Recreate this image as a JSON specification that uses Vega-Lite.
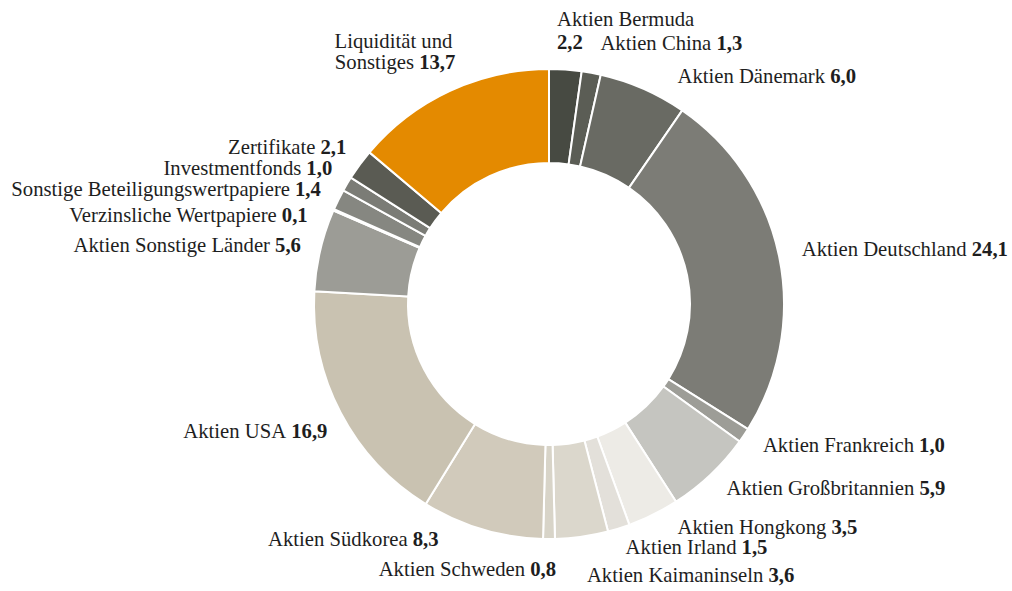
{
  "$schema": "https://vega.github.io/schema/vega-lite/v6.json",
  "width": 926,
  "height": 574,
  "autosize": {"type": "none"},
  "padding": {"left": 86, "top": 17, "right": 0, "bottom": 0},
  "background": "#ffffff",
  "config": {"view": {"stroke": null}, "text": {"font": "Liberation Serif", "fontSize": 20.7, "fill": "#1e1e1e", "baseline": "middle"}},
  "data": {"values": [
    {"name": "Aktien Bermuda", "value": 2.2},
    {"name": "Aktien China", "value": 1.3},
    {"name": "Aktien Dänemark", "value": 6.0},
    {"name": "Aktien Deutschland", "value": 24.1},
    {"name": "Aktien Frankreich", "value": 1.0},
    {"name": "Aktien Großbritannien", "value": 5.9},
    {"name": "Aktien Hongkong", "value": 3.5},
    {"name": "Aktien Irland", "value": 1.5},
    {"name": "Aktien Kaimaninseln", "value": 3.6},
    {"name": "Aktien Schweden", "value": 0.8},
    {"name": "Aktien Südkorea", "value": 8.3},
    {"name": "Aktien USA", "value": 16.9},
    {"name": "Aktien Sonstige Länder", "value": 5.6},
    {"name": "Verzinsliche Wertpapiere", "value": 0.1},
    {"name": "Sonstige Beteiligungswertpapiere", "value": 1.4},
    {"name": "Investmentfonds", "value": 1.0},
    {"name": "Zertifikate", "value": 2.1},
    {"name": "Liquidität und Sonstiges", "value": 13.7}
  ]},
  "transform": [
    {"window": [{"op": "row_number", "as": "ord"}]},
    {"calculate": "replace(format(datum.value, '.1f'), '.', ',')", "as": "vtxt"},
    {"calculate": "20.7*(0.5*(length(datum.vtxt)-1) + 0.25)", "as": "vW"},
    {"calculate": "20.7*(0.5*length(datum.name) - 0.25*(length(datum.name)-length(replace(datum.name,regexp(' ','g'),''))) - 0.222*(length(datum.name)-length(replace(datum.name,regexp('[iltj]','g'),''))) - 0.167*(length(datum.name)-length(replace(datum.name,regexp('[frI]','g'),''))) - 0.111*(length(datum.name)-length(replace(datum.name,regexp('[sJ]','g'),''))) - 0.056*(length(datum.name)-length(replace(datum.name,regexp('[aceäz]','g'),''))) + 0.056*(length(datum.name)-length(replace(datum.name,regexp('[FPS]','g'),''))) + 0.111*(length(datum.name)-length(replace(datum.name,regexp('[ELTZ]','g'),''))) + 0.167*(length(datum.name)-length(replace(datum.name,regexp('[BCR]','g'),''))) + 0.222*(length(datum.name)-length(replace(datum.name,regexp('[ADGHKNOQUVXYw]','g'),''))) + 0.278*(length(datum.name)-length(replace(datum.name,regexp('m','g'),''))) + 0.389*(length(datum.name)-length(replace(datum.name,regexp('M','g'),''))) + 0.444*(length(datum.name)-length(replace(datum.name,regexp('W','g'),''))))", "as": "nameW"},
    {"calculate": "datum.name == 'Aktien Bermuda' ? 'RB' : datum.name == 'Aktien China' ? 'R4' : datum.name == 'Aktien Dänemark' ? 'R1' : datum.name == 'Aktien Hongkong' ? 'R2' : datum.name == 'Aktien Kaimaninseln' ? 'R3' : (datum.name == 'Aktien USA' || datum.name == 'Aktien Schweden') ? 'L1' : datum.name == 'Verzinsliche Wertpapiere' ? 'L2' : datum.name == 'Aktien Südkorea' ? 'L3' : (datum.name == 'Investmentfonds' || datum.name == 'Zertifikate') ? 'L4' : datum.name == 'Liquidität und Sonstiges' ? 'LQ' : datum.ord <= 9 ? 'R0' : 'L0'", "as": "grp"}
  ],
  "encoding": {
    "theta": {"field": "value", "type": "quantitative", "stack": true},
    "order": {"field": "ord", "type": "quantitative"}
  },
  "layer": [
    {
      "mark": {"type": "arc", "outerRadius": 235, "innerRadius": 141, "stroke": "#ffffff", "strokeWidth": 2},
      "encoding": {
        "color": {
          "field": "name", "type": "nominal", "legend": null,
          "scale": {
            "domain": ["Aktien Bermuda", "Aktien China", "Aktien Dänemark", "Aktien Deutschland", "Aktien Frankreich", "Aktien Großbritannien", "Aktien Hongkong", "Aktien Irland", "Aktien Kaimaninseln", "Aktien Schweden", "Aktien Südkorea", "Aktien USA", "Aktien Sonstige Länder", "Verzinsliche Wertpapiere", "Sonstige Beteiligungswertpapiere", "Investmentfonds", "Zertifikate", "Liquidität und Sonstiges"],
            "range": ["#474a42", "#5b5d55", "#696a63", "#7c7c76", "#9d9d97", "#c5c5c0", "#edebe6", "#e3e0da", "#dbd7cc", "#d8d4c8", "#d1cabb", "#c9c2b1", "#9c9c96", "#9c9c96", "#868781", "#7b7c76", "#5a5b53", "#e48a00"]
          }
        }
      }
    },
    {"transform": [{"calculate": "datum.grp == 'R0' ? datum.name : ''", "as": "t"}],
     "mark": {"type": "text", "radius": 258, "align": "left", "dx": 0, "dy": -2},
     "encoding": {"text": {"field": "t", "type": "nominal"}}},
    {"transform": [{"calculate": "datum.grp == 'R0' ? datum.vtxt : ''", "as": "t"}],
     "mark": {"type": "text", "radius": 258, "align": "left", "dx": {"expr": "datum.nameW + 5"}, "dy": -2, "fontWeight": "bold"},
     "encoding": {"text": {"field": "t", "type": "nominal"}}},
    {"transform": [{"calculate": "datum.grp == 'R1' ? datum.name : ''", "as": "t"}],
     "mark": {"type": "text", "radius": 258, "align": "left", "dx": 25, "dy": 9},
     "encoding": {"text": {"field": "t", "type": "nominal"}}},
    {"transform": [{"calculate": "datum.grp == 'R1' ? datum.vtxt : ''", "as": "t"}],
     "mark": {"type": "text", "radius": 258, "align": "left", "dx": {"expr": "datum.nameW + 30"}, "dy": 9, "fontWeight": "bold"},
     "encoding": {"text": {"field": "t", "type": "nominal"}}},
    {"transform": [{"calculate": "datum.grp == 'R2' ? datum.name : ''", "as": "t"}],
     "mark": {"type": "text", "radius": 258, "align": "left", "dx": 14, "dy": -7},
     "encoding": {"text": {"field": "t", "type": "nominal"}}},
    {"transform": [{"calculate": "datum.grp == 'R2' ? datum.vtxt : ''", "as": "t"}],
     "mark": {"type": "text", "radius": 258, "align": "left", "dx": {"expr": "datum.nameW + 19"}, "dy": -7, "fontWeight": "bold"},
     "encoding": {"text": {"field": "t", "type": "nominal"}}},
    {"transform": [{"calculate": "datum.grp == 'R3' ? datum.name : ''", "as": "t"}],
     "mark": {"type": "text", "radius": 258, "align": "left", "dx": 2, "dy": 17},
     "encoding": {"text": {"field": "t", "type": "nominal"}}},
    {"transform": [{"calculate": "datum.grp == 'R3' ? datum.vtxt : ''", "as": "t"}],
     "mark": {"type": "text", "radius": 258, "align": "left", "dx": {"expr": "datum.nameW + 7"}, "dy": 17, "fontWeight": "bold"},
     "encoding": {"text": {"field": "t", "type": "nominal"}}},
    {"transform": [{"calculate": "datum.grp == 'R4' ? datum.name : ''", "as": "t"}],
     "mark": {"type": "text", "radius": 258, "align": "left", "dx": 5, "dy": -6},
     "encoding": {"text": {"field": "t", "type": "nominal"}}},
    {"transform": [{"calculate": "datum.grp == 'R4' ? datum.vtxt : ''", "as": "t"}],
     "mark": {"type": "text", "radius": 258, "align": "left", "dx": {"expr": "datum.nameW + 10"}, "dy": -6, "fontWeight": "bold"},
     "encoding": {"text": {"field": "t", "type": "nominal"}}},
    {"transform": [{"calculate": "datum.grp == 'RB' ? datum.name : ''", "as": "t"}],
     "mark": {"type": "text", "radius": 258, "align": "left", "dx": -10, "dy": -27},
     "encoding": {"text": {"field": "t", "type": "nominal"}}},
    {"transform": [{"calculate": "datum.grp == 'RB' ? datum.vtxt : ''", "as": "t"}],
     "mark": {"type": "text", "radius": 258, "align": "left", "dx": -10, "dy": -4, "fontWeight": "bold"},
     "encoding": {"text": {"field": "t", "type": "nominal"}}},
    {"transform": [{"calculate": "datum.grp == 'L0' ? datum.name : ''", "as": "t"}],
     "mark": {"type": "text", "radius": 258, "align": "right", "dx": {"expr": "3 - datum.vW - 5"}, "dy": 1},
     "encoding": {"text": {"field": "t", "type": "nominal"}}},
    {"transform": [{"calculate": "datum.grp == 'L0' ? datum.vtxt : ''", "as": "t"}],
     "mark": {"type": "text", "radius": 258, "align": "right", "dx": 3, "dy": 1, "fontWeight": "bold"},
     "encoding": {"text": {"field": "t", "type": "nominal"}}},
    {"transform": [{"calculate": "datum.grp == 'L1' ? datum.name : ''", "as": "t"}],
     "mark": {"type": "text", "radius": 258, "align": "right", "dx": {"expr": "7 - datum.vW - 5"}, "dy": 8},
     "encoding": {"text": {"field": "t", "type": "nominal"}}},
    {"transform": [{"calculate": "datum.grp == 'L1' ? datum.vtxt : ''", "as": "t"}],
     "mark": {"type": "text", "radius": 258, "align": "right", "dx": 7, "dy": 8, "fontWeight": "bold"},
     "encoding": {"text": {"field": "t", "type": "nominal"}}},
    {"transform": [{"calculate": "datum.grp == 'L2' ? datum.name : ''", "as": "t"}],
     "mark": {"type": "text", "radius": 258, "align": "right", "dx": {"expr": "-5 - datum.vW - 5"}, "dy": 15},
     "encoding": {"text": {"field": "t", "type": "nominal"}}},
    {"transform": [{"calculate": "datum.grp == 'L2' ? datum.vtxt : ''", "as": "t"}],
     "mark": {"type": "text", "radius": 258, "align": "right", "dx": -5, "dy": 15, "fontWeight": "bold"},
     "encoding": {"text": {"field": "t", "type": "nominal"}}},
    {"transform": [{"calculate": "datum.grp == 'L3' ? datum.name : ''", "as": "t"}],
     "mark": {"type": "text", "radius": 258, "align": "right", "dx": {"expr": "-37 - datum.vW - 5"}, "dy": -11},
     "encoding": {"text": {"field": "t", "type": "nominal"}}},
    {"transform": [{"calculate": "datum.grp == 'L3' ? datum.vtxt : ''", "as": "t"}],
     "mark": {"type": "text", "radius": 258, "align": "right", "dx": -37, "dy": -11, "fontWeight": "bold"},
     "encoding": {"text": {"field": "t", "type": "nominal"}}},
    {"transform": [{"calculate": "datum.grp == 'L4' ? datum.name : ''", "as": "t"}],
     "mark": {"type": "text", "radius": 258, "align": "right", "dx": {"expr": "5 - datum.vW - 5"}, "dy": -3},
     "encoding": {"text": {"field": "t", "type": "nominal"}}},
    {"transform": [{"calculate": "datum.grp == 'L4' ? datum.vtxt : ''", "as": "t"}],
     "mark": {"type": "text", "radius": 258, "align": "right", "dx": 5, "dy": -3, "fontWeight": "bold"},
     "encoding": {"text": {"field": "t", "type": "nominal"}}},
    {"transform": [{"calculate": "datum.grp == 'LQ' ? substring(datum.name, 0, indexof(datum.name, ' und ') + 4) : ''", "as": "t"}],
     "mark": {"type": "text", "radius": 258, "align": "right", "dx": 12, "dy": -28},
     "encoding": {"text": {"field": "t", "type": "nominal"}}},
    {"transform": [{"calculate": "datum.grp == 'LQ' ? substring(datum.name, indexof(datum.name, ' und ') + 5) : ''", "as": "t"}],
     "mark": {"type": "text", "radius": 258, "align": "right", "dx": {"expr": "15 - datum.vW - 5"}, "dy": -7},
     "encoding": {"text": {"field": "t", "type": "nominal"}}},
    {"transform": [{"calculate": "datum.grp == 'LQ' ? datum.vtxt : ''", "as": "t"}],
     "mark": {"type": "text", "radius": 258, "align": "right", "dx": 15, "dy": -7, "fontWeight": "bold"},
     "encoding": {"text": {"field": "t", "type": "nominal"}}}
  ]
}
